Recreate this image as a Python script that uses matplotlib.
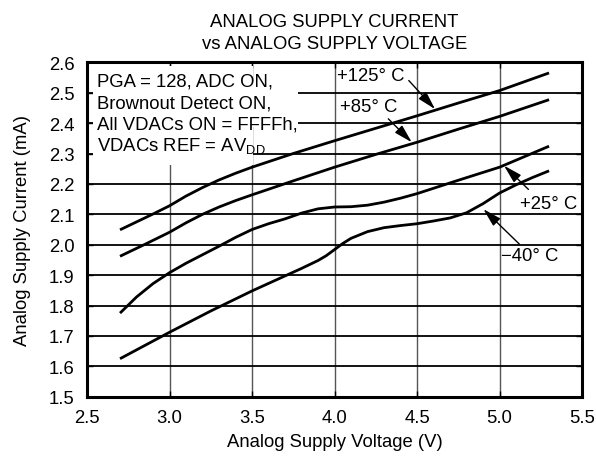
import matplotlib
matplotlib.use("Agg")
import matplotlib.pyplot as plt
from matplotlib.patches import Rectangle

plt.rcParams["font.family"] = ["Liberation Sans", "DejaVu Sans"]
plt.rcParams["mathtext.fontset"] = "custom"
plt.rcParams["mathtext.rm"] = "Liberation Sans"
FS = 13.3

# --- data (V, mA) ---
v_125 = [2.7, 2.8, 2.9, 3.0, 3.1, 3.2, 3.3, 3.4, 3.5, 3.75, 4.0, 4.25, 4.5, 4.75, 5.0, 5.3]
i_125 = [2.049, 2.075, 2.101, 2.128, 2.160, 2.188, 2.213, 2.235, 2.255, 2.300, 2.342,
         2.383, 2.424, 2.466, 2.507, 2.565]

v_85 = [2.7, 2.85, 3.0, 3.1, 3.2, 3.3, 3.4, 3.5, 3.75, 4.0, 4.25, 4.5, 4.75, 5.0, 5.3]
i_85 = [1.962, 2.001, 2.041, 2.072, 2.100, 2.124, 2.145, 2.164, 2.210, 2.255, 2.297,
        2.337, 2.380, 2.422, 2.477]

v_25 = [2.7, 2.8, 2.9, 3.0, 3.1, 3.2, 3.3, 3.4, 3.5, 3.6, 3.7, 3.8, 3.9, 4.0, 4.1, 4.2,
        4.3, 4.4, 4.5, 4.75, 5.0, 5.3]
i_25 = [1.775, 1.828, 1.872, 1.908, 1.939, 1.967, 1.995, 2.024, 2.050, 2.069, 2.085,
        2.104, 2.118, 2.124, 2.125, 2.130, 2.140, 2.153, 2.168, 2.212, 2.255, 2.324]

v_m40 = [2.7, 3.0, 3.25, 3.5, 3.65, 3.8, 3.9, 3.95, 4.0, 4.05, 4.1, 4.2, 4.3, 4.4, 4.5,
         4.6, 4.7, 4.8, 4.9, 5.0, 5.1, 5.2, 5.3]
i_m40 = [1.625, 1.712, 1.782, 1.848, 1.885, 1.922, 1.948, 1.964, 1.984, 2.004, 2.021,
         2.043, 2.056, 2.063, 2.069, 2.078, 2.088, 2.105, 2.135, 2.170, 2.197, 2.221, 2.243]

x_ticks = [2.5, 3.0, 3.5, 4.0, 4.5, 5.0, 5.5]
y_ticks = [1.5, 1.6, 1.7, 1.8, 1.9, 2.0, 2.1, 2.2, 2.3, 2.4, 2.5, 2.6]

fig = plt.figure(figsize=(5.96, 4.6), dpi=100)
ax = fig.add_axes([0.146, 0.1354, 0.8306, 0.727])

for v, i in [(v_125, i_125), (v_85, i_85), (v_25, i_25), (v_m40, i_m40)]:
    ax.plot(v, i, color="black", lw=2.0, zorder=4, solid_capstyle="butt",
            solid_joinstyle="round")

ax.set_xlim(2.5, 5.5)
ax.set_ylim(1.5, 2.6)
ax.set_xticks(x_ticks)
ax.set_yticks(y_ticks)
ax.set_xticklabels(["%.1f" % t for t in x_ticks], fontsize=FS)
ax.set_yticklabels(["%.1f" % t for t in y_ticks], fontsize=FS)
ax.tick_params(direction="in", length=4, width=1, top=True, right=True, pad=9)
ax.xaxis.grid(True, color="#555555", lw=1.0)
ax.yaxis.grid(True, color="black", lw=1.3)
for s in ax.spines.values():
    s.set_linewidth(2.2)

ax.set_xlabel("Analog Supply Voltage (V)", fontsize=FS, labelpad=5)
ax.set_ylabel("Analog Supply Current (mA)", fontsize=FS, labelpad=13)
ax.set_title("ANALOG SUPPLY CURRENT\nvs ANALOG SUPPLY VOLTAGE", fontsize=FS,
             linespacing=1.4, pad=10)

# white background behind the condition text (hides grid like the original)
ax.add_patch(Rectangle((0.012, 0.693), 0.324, 0.296, transform=ax.transAxes,
                       facecolor="white", edgecolor="none", zorder=2))
ax.add_patch(Rectangle((0.33, 0.806), 0.096, 0.138, transform=ax.transAxes,
                       facecolor="white", edgecolor="none", zorder=2))

cond = ["PGA = 128, ADC ON,", "Brownout Detect ON,", "All VDACs ON = FFFFh,",
        r"VDACs REF = AV$_{\mathrm{DD}}$"]
base_y = [0.932, 0.866, 0.801, 0.738]
for t, y in zip(cond, base_y):
    ax.text(0.0195, y, t, transform=ax.transAxes, fontsize=FS, va="baseline",
            ha="left", zorder=5)

# curve labels and their pointer arrows
labels = ["+125\u00b0 C", "+85\u00b0 C", "+25\u00b0 C", "\u221240\u00b0 C"]
label_xy = [(4.013, 2.556), (4.033, 2.454), (5.124, 2.135), (5.007, 1.963)]
arrow_tail = [(4.450, 2.540), (4.326, 2.414), (5.175, 2.182), (5.120, 2.002)]
arrow_tip = [(4.609, 2.446), (4.468, 2.337), (5.027, 2.260), (4.902, 2.117)]

for t, p in zip(labels, label_xy):
    ax.text(p[0], p[1], t, fontsize=FS, ha="left", va="center", zorder=5)
for a, b in zip(arrow_tail, arrow_tip):
    ax.annotate("", xy=b, xytext=a, zorder=5,
                arrowprops=dict(arrowstyle="-|>,head_length=0.8,head_width=0.22",
                                color="black", lw=1.0, mutation_scale=14,
                                shrinkA=0, shrinkB=0))

fig.savefig("out.png", dpi=100)
